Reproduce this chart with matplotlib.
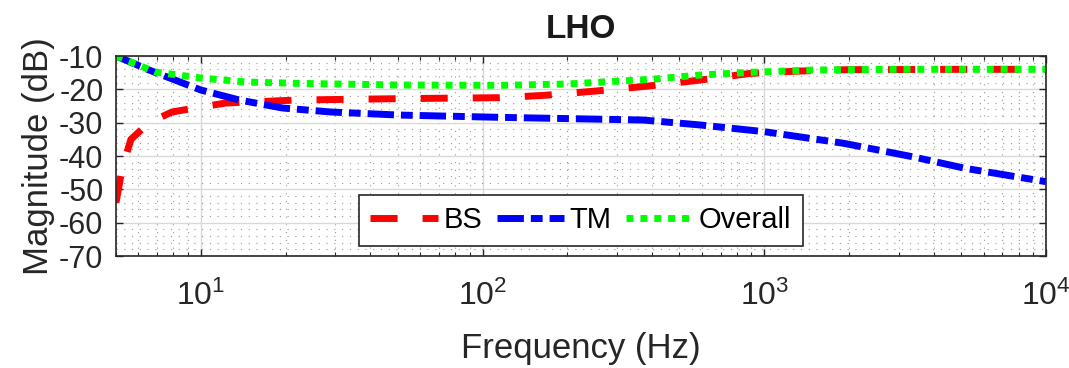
import numpy as np
import matplotlib
matplotlib.use("Agg")
import matplotlib.pyplot as plt
from matplotlib.ticker import LogLocator, MultipleLocator, NullFormatter

plt.rcParams['font.family'] = ['Liberation Sans', 'DejaVu Sans']
plt.rcParams['mathtext.fontset'] = 'custom'
plt.rcParams['mathtext.rm'] = 'Liberation Sans'
plt.rcParams['axes.unicode_minus'] = False

# Data (frequency in Hz, magnitude in dB)

bs_freq = [5, 5.25, 5.65, 6.55, 7.9, 10, 12.3, 22, 50, 115, 166, 253, 388, 594, 895, 1348, 2000, 5000, 10000]
bs_mag = [-54, -44, -35, -30, -26.8, -25.3, -24.1, -23.2, -22.8, -22.5, -21.8, -20.5, -19, -17.2, -15.2, -14.5, -14.1, -14, -14]

tm_freq = [5, 6.55, 10, 13.7, 19.5, 29, 50, 115, 372, 594, 1000, 1918, 3350, 5167, 10000]
tm_mag = [-10, -14.2, -20.2, -23.2, -25.6, -26.8, -27.7, -28.4, -29.2, -30.7, -32.7, -36.2, -40.2, -43.7, -47.7]

overall_freq = [5, 6.9, 10, 14.5, 22, 50, 115, 200, 395, 594, 895, 1500, 3000, 10000]
overall_mag = [-10, -14.8, -16.6, -17.8, -18.2, -18.7, -18.8, -18.4, -17, -15.7, -14.9, -14.2, -14, -14]

series_labels = ["BS", "TM", "Overall"]

# Figure

fig = plt.figure(figsize=(10.69, 3.68), dpi=100)
ax = fig.add_axes([0.1085, 0.3043, 0.87, 0.5435])

lw = 5
l_bs, = ax.plot(bs_freq, bs_mag, color=(1, 0, 0), lw=lw, label=series_labels[0])
l_bs.set_dashes([3.9, 3.6])
l_tm, = ax.plot(tm_freq, tm_mag, color=(0, 0, 1), lw=lw, label=series_labels[1])
l_tm.set_dashes([3.8, 1.0, 1.7, 1.0])
l_ov, = ax.plot(overall_freq, overall_mag, color=(0, 1, 0), lw=lw, label=series_labels[2])
l_ov.set_dashes([1.0, 1.0])

ax.set_xscale("log")
ax.set_xlim(5, 1e4)
ax.set_ylim(-70, -10)
ax.set_yticks(np.arange(-70, -9, 10))
ax.yaxis.set_minor_locator(MultipleLocator(2))
ax.xaxis.set_minor_locator(LogLocator(base=10, subs=np.arange(2, 10)))
ax.xaxis.set_minor_formatter(NullFormatter())

ax.grid(True, which="major", color="0.85", lw=1.0, ls="-")
ax.grid(True, which="minor", color="0.6", lw=0.8, ls=(0, (1, 6)))
ax.set_axisbelow(True)

ax.tick_params(axis="both", which="both", direction="in", top=True, right=True,
               colors="0.15", labelcolor="0.15")
ax.tick_params(axis="both", which="major", length=5, width=1)
ax.tick_params(axis="x", which="minor", length=3, width=0.8)
ax.tick_params(axis="y", which="minor", length=0)
ax.tick_params(axis="y", labelsize=22, pad=9)
ax.tick_params(axis="x", labelsize=23, pad=18)
for s in ax.spines.values():
    s.set_color("0.15")
    s.set_linewidth(1.2)

ax.set_title("LHO", fontsize=24, fontweight="bold", color="0.1", pad=13)
ax.set_xlabel("Frequency (Hz)", fontsize=25, color="0.15", labelpad=14)
ax.set_ylabel("Magnitude (dB)", fontsize=25, color="0.15", labelpad=3)

leg = ax.legend(loc="lower center", bbox_to_anchor=(0.5, 0.05), ncol=3, fontsize=21,
                frameon=True, fancybox=False, edgecolor="0.15", framealpha=1,
                handlelength=2.3, columnspacing=0.5, handletextpad=0.2,
                borderpad=0.4, borderaxespad=0)
leg.get_frame().set_linewidth(1.2)

fig.savefig("out.png", dpi=100, facecolor="white")
